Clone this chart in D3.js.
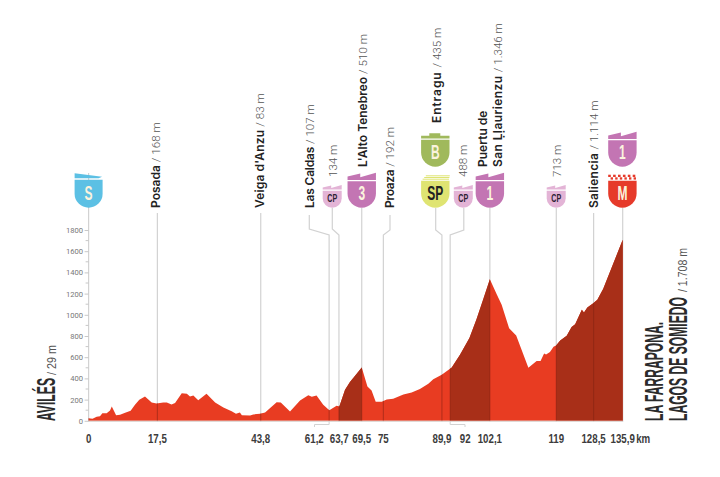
<!DOCTYPE html>
<html><head><meta charset="utf-8">
<script src="https://cdn.jsdelivr.net/npm/d3@7"></script>
<style>html,body{margin:0;padding:0;background:#fff}svg{display:block}</style></head>
<body><svg id="c" width="720" height="477"></svg>
<script>
// Profile
const profileKm = [0,1,2.05,2.9,3.5,4.6,5.45,5.9,7,8,9.3,10.7,11.8,12.9,14.35,16.05,17.3,19,19.9,21.1,22,23.7,25,25.8,26.65,27.9,30,32.2,34.3,36.4,37.5,38.5,39,41.1,41.9,43.6,44.9,47.85,48.9,51.25,53.8,55.9,56.8,58,59.7,61.25,63.1,63.8,65.25,66.5,67.8,69.5,70.95,72,73.05,74.6,75.85,77.5,80.1,82.2,84.3,86.45,87.7,89.85,92.4,94.5,96.9,98.7,100.5,102.1,103.9,105.1,107,108.8,111.9,114,115,115.9,116.4,117.4,118.3,118.95,120,121.65,122.9,123.8,125.5,126.05,126.9,128.4,129.45,130.95,135.9];
const profileEle = [25,20,38,44,72,72,97,135,53,57,75,94,151,198,230,173,164,173,173,154,167,261,255,230,239,195,255,173,126,91,66,79,53,50,60,66,79,176,173,88,192,242,226,239,151,100,142,135,292,365,425,503,324,286,179,179,201,208,248,267,299,349,393,434,503,623,780,959,1157,1336,1189,1094,874,805,500,563,563,635,626,648,698,711,758,802,884,912,1047,1022,1069,1110,1142,1245,1708];
const darkFrom = [63.7,92,119];
const darkTo = [69.5,102.1,135.9];
const yTicks = [0,200,400,600,800,1000,1200,1400,1600,1800];
const yMinor = [100,300,500,700,900,1100,1300,1500,1700];
const kmTicks = [0,17.5,43.8,61.2,63.7,69.5,75,89.9,92,102.1,119,128.5,135.9];
const kmLabels = ["0","17,5","43,8","61,2","63,7","69,5","75","89,9","92","102,1","119","128,5","135,9"];
const placeNames = ["Posada","Veiga d'Anzu","Las Caldas","","L'Alto Tenebreo","Proaza","Entragu","","Puertu de","San Ḷḷaurienzu","","Saliencia"];
const placeAlts = ["/ 168 m","/ 83 m","/ 107 m","134 m","/ 510 m","/ 192 m","/ 435 m","488 m","","/ 1.346 m","713 m","/ 1.114 m"];
const badgeText = ["S","CP","3","B","SP","CP","1","CP","1","M"];

const svg = d3.select("#c");
const x = d3.scaleLinear().domain([0,135.9]).range([88.6,622.7]);
const y = d3.scaleLinear().domain([0,1800]).range([420.8,230]);
const pts = profileKm.map((k,i)=>[k,profileEle[i]]);
const narrow = "'Liberation Sans Narrow','Liberation Sans',sans-serif";
const body = "Roboto,'Liberation Sans',sans-serif";
const GRID = "#d2d2d2";

const defs = svg.append("defs");
const area = d3.area().x(d=>x(d[0])).y0(y(0)).y1(d=>y(d[1]));
defs.append("clipPath").attr("id","prof").append("path").attr("d",area(pts));

const guides = [
 {k:0,top:173},{k:17.5,top:213},{k:43.8,top:213},
 {k:61.2,route:[[309.3,215],[309.3,229]]},
 {k:63.7,route:[[332.3,208],[332.3,229]]},
 {k:69.5,top:208},
 {k:75,route:[[390,215],[390,230]]},
 {k:89.9,route:[[435.7,208],[435.7,230]]},
 {k:92,route:[[463.8,208],[463.8,230]]},
 {k:102.1,top:208},{k:119,top:208},{k:128.5,top:213},{k:135.9,top:208}
];
const line = d3.line();
guides.forEach(g=>{
  const X=x(g.k);
  const p = g.route ? [...g.route,[X,235],[X,y(0)+1]] : [[X,g.top],[X,y(0)+1]];
  svg.append("path").attr("d",line(p)).attr("fill","none").attr("stroke",GRID).attr("stroke-width",1.2);
});
[[61.2,314.5],[92,465]].forEach(([k,lx])=>{
  svg.append("path").attr("d",line([[x(k),y(0)+1],[x(k),424.5],[lx,424.5],[lx,427]])).attr("fill","none").attr("stroke",GRID).attr("stroke-width",1);
});

// profile
svg.append("path").attr("d",area(pts)).attr("fill","#e83c22");
const clip = svg.append("g").attr("clip-path","url(#prof)");
darkFrom.forEach((a,i)=>{
  clip.append("rect").attr("x",x(a)).attr("width",x(darkTo[i])-x(a)).attr("y",y(1800)).attr("height",y(0)-y(1800)).attr("fill","#a82f18");
});
kmTicks.forEach(k=>{
  clip.append("line").attr("x1",x(k)).attr("x2",x(k)).attr("y1",y(1800)).attr("y2",y(0)).attr("stroke","#7a2012").attr("stroke-opacity",.45).attr("stroke-width",1.1);
});
svg.append("line").attr("x1",x(0)).attr("x2",x(135.9)).attr("y1",y(0)+.5).attr("y2",y(0)+.5).attr("stroke","#d9d0cc").attr("stroke-width",1);

// y axis
const ax = svg.append("g").attr("transform",`translate(${x(0)},0)`).call(d3.axisLeft(y).tickValues(yTicks).tickSize(4).tickPadding(1.5).tickFormat(d=>d));
ax.select(".domain").remove();
ax.selectAll("line").attr("stroke","#c8c8c8");
ax.selectAll("text").attr("font-family",body).attr("font-size",7.6).attr("fill","#777");
yMinor.forEach(v=>svg.append("line").attr("x1",x(0)-3).attr("x2",x(0)).attr("y1",y(v)).attr("y2",y(v)).attr("stroke","#c8c8c8"));

function cond(g,txt,px,py,size,sx,anchor,fill,rot){
  return g.append("text").attr("transform",`translate(${px},${py})${rot?" rotate(-90)":""} scale(${sx},1)`)
   .attr("font-family",narrow).attr("font-weight",700).attr("font-size",size).attr("text-anchor",anchor).attr("fill",fill).text(txt);
}
// rotated text fitted to a measured length
function fit(g,txt,px,py,size,len,fill,weight){
  return g.append("text").attr("transform",`translate(${px},${py}) rotate(-90)`)
   .attr("font-family",narrow).attr("font-weight",weight).attr("font-size",size).attr("fill",fill)
   .attr("textLength",len).attr("lengthAdjust","spacingAndGlyphs").text(txt);
}
// km labels
const labelX = {61.2:314.3,63.7:339.2,89.9:442,92:465.2};
kmTicks.forEach((k,i)=>cond(svg,kmLabels[i],labelX[k]||x(k),442.7,13.5,.72,"middle","#3c3c3c"));
cond(svg,"km",636.2,442.7,13.5,.72,"start","#3c3c3c");

// rotated stage ends
const ends=svg.append("g");
fit(ends,"AVILÉS",55,421,25,43,"#2b2b2b",700);
fit(ends,"/ 29 m",55.5,375,13,30,"#555",400);
fit(ends,"LA FARRAPONA.",663,421,25,99,"#2b2b2b",700);
fit(ends,"LAGOS DE SOMIEDO",686.7,421,25,124,"#2b2b2b",700);
fit(ends,"/ 1.708 m",686.7,292,13,44,"#555",400);

// place labels
const labelPos=[[160,208],[264,208],[314,208],[337,177],[367,167],[394,208],[441,123],[467,177],[487,167],[502,167],[561,177],[598,208]];
const labelTrack=[0,.15,-.2,0,0,-.3,.9,0,0,.4,0,.3];
placeNames.forEach((n,i)=>{
  const t=svg.append("text").attr("transform",`translate(${labelPos[i][0]},${labelPos[i][1]}) rotate(-90)`);
  if(n) t.append("tspan").attr("font-family","Inter,'Liberation Sans',sans-serif").attr("font-size",12).attr("font-weight",600).attr("letter-spacing",labelTrack[i]).attr("fill","#222").text(n+(placeAlts[i]?" ":""));
  if(placeAlts[i]) t.append("tspan").attr("font-family",body).attr("font-size",11.6).attr("font-weight",300).attr("fill","#555").text(placeAlts[i]);
});

// badges
function shield(w,h){
  const r=w/2;
  return `M${-r},0 H${r} V${h-r} A${r},${r} 0 0 1 ${-r},${h-r} Z`;
}
const CREAM="#fbf3dd";
const badges=[
 {x:x(0),bot:207.7,w:28,h:28,top:"wedge",c:"#5cc0e4",tc:CREAM,i:0},
 {x:332.2,bot:207.7,w:19,h:17,top:"saw",c:"#e3b4d6",tc:"#2d2233",i:1},
 {x:x(69.5),bot:207.7,w:28.4,h:26.5,top:"saw",c:"#c375b3",tc:CREAM,i:2},
 {x:435.3,bot:166.7,w:28.4,h:27,top:"b",c:"#a0b95c",tc:CREAM,i:3},
 {x:435.3,bot:207.7,w:28.4,h:27,top:"sp",c:"#dfe472",tc:"#222",i:4},
 {x:463.3,bot:207.7,w:19,h:17,top:"saw",c:"#e3b4d6",tc:"#2d2233",i:5},
 {x:x(102.1),bot:207.7,w:28.4,h:26.5,top:"saw",c:"#c375b3",tc:CREAM,i:6},
 {x:556.2,bot:207.7,w:19,h:17,top:"saw",c:"#e3b4d6",tc:"#2d2233",i:7},
 {x:622.4,bot:166.7,w:28.4,h:26.5,top:"saw",c:"#c375b3",tc:CREAM,i:8},
 {x:622.4,bot:207.7,w:28.4,h:27,top:"m",c:"#e63a2a",tc:CREAM,i:9}
];
badges.forEach(b=>{
  const top=b.bot-b.h, r=b.w/2;
  const g=svg.append("g").attr("transform",`translate(${b.x},${top})`);
  g.append("path").attr("d",shield(b.w,b.h)).attr("fill",b.c);
  if(b.top==="saw"){
    const u=b.w/28.4;
    g.append("path").attr("fill",b.c).attr("d",`M${-r},${-1.2} V${-4.6*u} L${-1.5*u},${-7.6*u} V${-4*u} L${r},${-8.4*u} V${-1.2} Z`);
  } else if(b.top==="wedge"){
    g.append("path").attr("fill",b.c).attr("d",`M${-r},-1.4 V-6.4 L${r-.5},-3 L${r-4},-1.4 Z`);
  } else if(b.top==="b"){
    g.append("path").attr("fill",b.c).attr("d",`M${-r},-1.2 V-4 H-6 V-6.4 H5 V-4 H${r} V-1.2 Z`);
  } else if(b.top==="sp"){
    [0,1,2].forEach(n=>g.append("rect").attr("x",-r+1.5+n*1.6).attr("width",b.w-2-n*1.2).attr("y",-2-n*1.7).attr("height",1).attr("fill",b.c));
  } else if(b.top==="m"){
    d3.range(6).forEach(n=>{
      g.append("rect").attr("x",-r+n*4.9).attr("y",-6).attr("width",2.6).attr("height",2.3).attr("fill",b.c);
      g.append("rect").attr("x",-r+2.4+n*4.6).attr("y",-3.4).attr("width",2.4).attr("height",2.3).attr("fill",b.c);
    });
  }
  const big=b.w>20;
  cond(g,badgeText[b.i],0,b.h-(big?7.6:5.7),big?20:11.5,big?.6:.62,"middle",b.tc);
});
</script></body></html>
